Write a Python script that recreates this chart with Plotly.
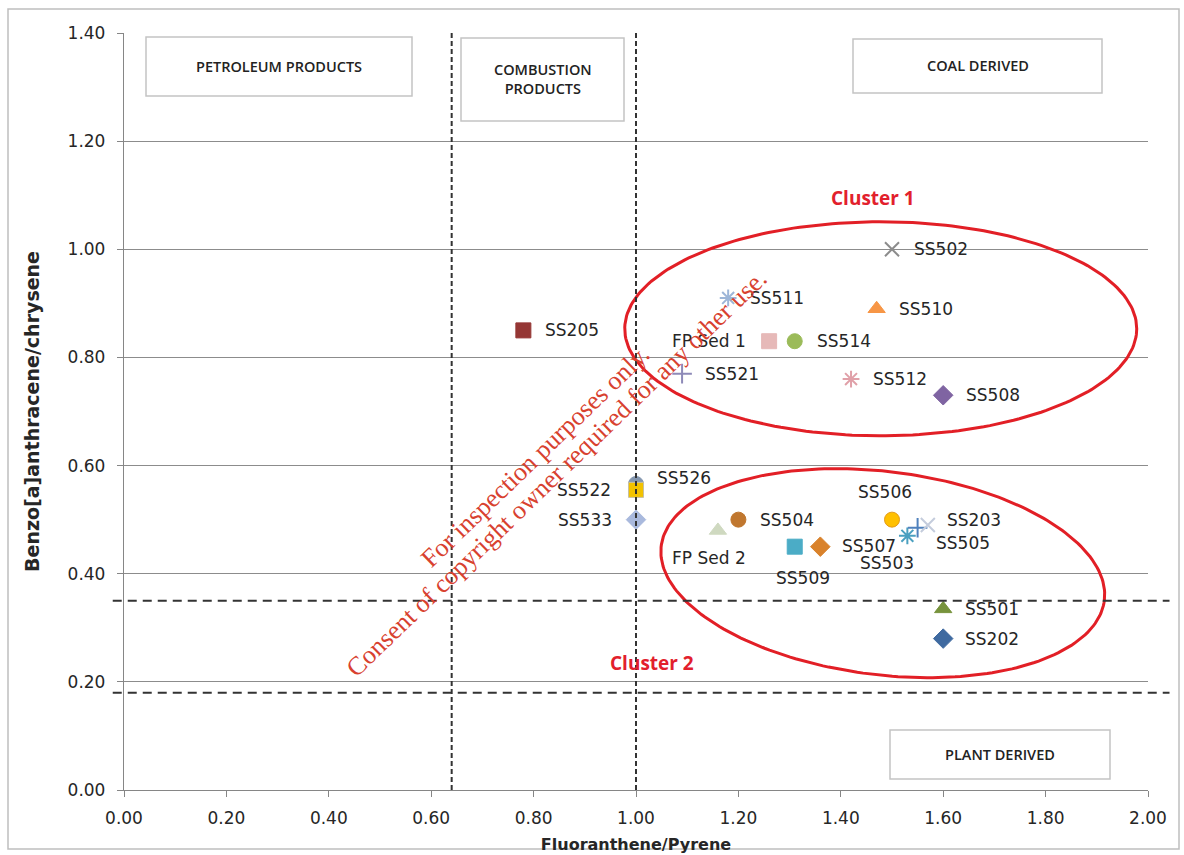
import numpy as np
import plotly.graph_objects as go

# Sample ratios: Fluoranthene/Pyrene (x) vs Benzo[a]anthracene/chrysene (y)
samples = ["SS205", "SS511", "FP Sed 1", "SS514", "SS521", "SS502", "SS510", "SS512",
           "SS508", "SS526", "SS522", "SS533", "FP Sed 2", "SS504", "SS509", "SS507",
           "SS506", "SS503", "SS505", "SS203", "SS501", "SS202"]
fl_py = [0.78, 1.18, 1.26, 1.31, 1.09, 1.50, 1.47, 1.42,
         1.60, 1.00, 1.00, 1.00, 1.16, 1.20, 1.31, 1.36,
         1.50, 1.53, 1.55, 1.57, 1.60, 1.60]
baa_chr = [0.85, 0.91, 0.83, 0.83, 0.77, 1.00, 0.89, 0.76,
           0.73, 0.566, 0.555, 0.50, 0.48, 0.50, 0.45, 0.45,
           0.50, 0.47, 0.485, 0.49, 0.335, 0.28]

# Source-diagnostic thresholds
fl_py_limits = [0.64, 1.00]
baa_chr_limits = [0.35, 0.18]

x_ticks = [0.0, 0.2, 0.4, 0.6, 0.8, 1.0, 1.2, 1.4, 1.6, 1.8, 2.0]
y_ticks = [0.0, 0.2, 0.4, 0.6, 0.8, 1.0, 1.2, 1.4]

# marker style per sample: symbol, fill, outline
style = {
    "SS205": ("square", "#953735", "#953735"),
    "SS511": ("asterisk-open", "#9DB6D8", "#9DB6D8"),
    "FP Sed 1": ("square", "#E6B9B8", "#E6B9B8"),
    "SS514": ("circle", "#9BBB59", "#9BBB59"),
    "SS521": ("cross-thin-open", "#8E8AB8", "#8E8AB8"),
    "SS502": ("x-thin-open", "#8C8C8C", "#8C8C8C"),
    "SS510": ("triangle-up", "#F79646", "#F79646"),
    "SS512": ("asterisk-open", "#E0A0A8", "#E0A0A8"),
    "SS508": ("diamond", "#7F64A2", "#7F64A2"),
    "SS526": ("circle", "#8497B0", "#8497B0"),
    "SS522": ("square", "#F2C200", "#C8C0A0"),
    "SS533": ("diamond", "#A9B9DD", "#A9B9DD"),
    "FP Sed 2": ("triangle-up", "#CFD9C0", "#CFD9C0"),
    "SS504": ("circle", "#C0772F", "#C0772F"),
    "SS509": ("square", "#4BACC6", "#4BACC6"),
    "SS507": ("diamond", "#D9822B", "#D9822B"),
    "SS506": ("circle", "#FFC000", "#E39A1A"),
    "SS503": ("asterisk-open", "#4BA0C0", "#4BA0C0"),
    "SS505": ("cross-thin-open", "#4F81BD", "#4F81BD"),
    "SS203": ("x-thin-open", "#C4CCDC", "#C4CCDC"),
    "SS501": ("triangle-up", "#77933C", "#77933C"),
    "SS202": ("diamond", "#3F6AA0", "#3F6AA0"),
}

# label placement per sample: xanchor, xshift, yshift (pixels)
label_pos = {
    "SS205": ("left", 20, 0), "SS511": ("left", 20, 0), "FP Sed 1": ("right", -21, 0),
    "SS514": ("left", 20, 0), "SS521": ("left", 21, 0), "SS502": ("left", 20, 0),
    "SS510": ("left", 20, 0), "SS512": ("left", 20, 0), "SS508": ("left", 21, 0),
    "SS526": ("left", 19, 6), "SS522": ("right", -23, 0), "SS533": ("right", -22, 0),
    "FP Sed 2": ("center", -9, -28), "SS504": ("left", 20, 0), "SS509": ("center", 8, -31),
    "SS507": ("left", 20, 1), "SS506": ("center", -7, 28), "SS503": ("center", -20, -27),
    "SS505": ("left", 16, -15), "SS203": ("left", 17, 5), "SS501": ("left", 20, 0),
    "SS202": ("left", 20, 0),
}

fig = go.Figure()

# draw SS526 beneath SS522 so the square sits on top
order = list(range(len(samples)))
i526 = samples.index("SS526")
order.remove(i526)
order.insert(0, i526)

for i in order:
    name = samples[i]
    sym, fill, line = style[name]
    is_open = sym.endswith("-open")
    fig.add_trace(go.Scatter(
        x=[fl_py[i]], y=[baa_chr[i]], mode="markers", name=name,
        marker=dict(symbol=sym, size=15 if not is_open else 14,
                    color=fill,
                    line=dict(color=line, width=2 if is_open else 1)),
        showlegend=False, hoverinfo="skip"))

annotations = []
for i, name in enumerate(samples):
    anchor, dx, dy = label_pos[name]
    annotations.append(dict(
        x=fl_py[i], y=baa_chr[i], xref="x", yref="y", text=name, showarrow=False,
        xanchor=anchor, yanchor="middle", xshift=dx, yshift=dy,
        font=dict(family="DejaVu Sans", size=17, color="#262626")))

# plot geometry (pixels) used to draw tilted cluster outlines
PX_W, PX_H = 1024, 757
sx = PX_W / (x_ticks[-1] - x_ticks[0])
sy = PX_H / (y_ticks[-1] - y_ticks[0])


def ellipse(cx, cy, rx, ry, tilt_deg, n=240):
    t = np.linspace(0, 2 * np.pi, n)
    a, b = rx * sx, ry * sy
    th = np.radians(-tilt_deg)
    u = a * np.cos(t)
    v = b * np.sin(t)
    px = u * np.cos(th) - v * np.sin(th)
    py = u * np.sin(th) + v * np.cos(th)
    return cx + px / sx, cy + py / sy


for (cx, cy, rx, ry, tilt) in [(1.478, 0.853, 0.50, 0.198, 0.0),
                               (1.482, 0.401, 0.436, 0.188, 7.0)]:
    ex, ey = ellipse(cx, cy, rx, ry, tilt)
    fig.add_trace(go.Scatter(x=ex, y=ey, mode="lines",
                             line=dict(color="#E21F26", width=3),
                             showlegend=False, hoverinfo="skip"))

shapes = []
for xv in fl_py_limits:
    shapes.append(dict(type="line", xref="x", yref="paper", x0=xv, x1=xv, y0=0, y1=1,
                       line=dict(color="#333333", width=2, dash="5px,3px")))
for yv in baa_chr_limits:
    shapes.append(dict(type="line", xref="paper", yref="y", x0=-0.011, x1=1.021, y0=yv, y1=yv,
                       line=dict(color="#333333", width=2, dash="9px,6px")))


def px_box(x0, y0, x1, y1):
    return dict(type="rect", xref="paper", yref="paper",
                x0=(x0 - 124) / PX_W, x1=(x1 - 124) / PX_W,
                y0=(790 - y1) / PX_H, y1=(790 - y0) / PX_H,
                line=dict(color="#C4C4C4", width=1.5), fillcolor="white", layer="above")


boxes = [
    ((146, 37, 412, 96), "PETROLEUM PRODUCTS"),
    ((461, 38, 624, 121), "COMBUSTION<br>PRODUCTS"),
    ((853, 39, 1102, 93), "COAL DERIVED"),
    ((890, 730, 1110, 779), "PLANT DERIVED"),
]
for (bx0, by0, bx1, by1), txt in boxes:
    shapes.append(px_box(bx0, by0, bx1, by1))
    annotations.append(dict(
        x=((bx0 + bx1) / 2 - 124) / PX_W, y=(790 - (by0 + by1) / 2) / PX_H,
        xref="paper", yref="paper", text=txt, showarrow=False,
        xanchor="center", yanchor="middle",
        font=dict(family="Open Sans", size=14.5, color="#222222", weight=600)))

# outer chart frame
shapes.append(dict(type="rect", xref="paper", yref="paper",
                   x0=(8 - 124) / PX_W, x1=(1179 - 124) / PX_W,
                   y0=(790 - 849) / PX_H, y1=(790 - 9) / PX_H,
                   line=dict(color="#BEBEBE", width=1.5), layer="below"))

# cluster captions
for txt, px, py in [("Cluster 1", 873, 198), ("Cluster 2", 652, 663)]:
    annotations.append(dict(
        x=(px - 124) / PX_W, y=(790 - py) / PX_H, xref="paper", yref="paper",
        text=txt, showarrow=False, xanchor="center", yanchor="middle",
        font=dict(family="Open Sans", size=19, color="#E2202C", weight="bold")))

# diagonal notice
for txt, px, py in [("For inspection purposes only.", 535, 456),
                    ("Consent of copyright owner required for any other use.", 556, 473)]:
    annotations.append(dict(
        x=(px - 124) / PX_W, y=(790 - py) / PX_H, xref="paper", yref="paper",
        text=txt, showarrow=False, xanchor="center", yanchor="middle", textangle=-44,
        font=dict(family="Liberation Serif", size=26, color="#D8412F")))

axis_common = dict(showline=True, linecolor="#868686", linewidth=1.3,
                   ticks="outside", ticklen=6, tickcolor="#868686", tickwidth=1.3,
                   tickformat=".2f", zeroline=False, automargin=False,
                   tickfont=dict(family="DejaVu Sans", size=17, color="#262626"))

fig.update_layout(
    width=1184, height=855,
    margin=dict(l=124, r=36, t=33, b=65),
    paper_bgcolor="white", plot_bgcolor="white",
    shapes=shapes, annotations=annotations,
    xaxis=dict(range=[x_ticks[0], x_ticks[-1]], tickvals=x_ticks, showgrid=False,
               ticklabelstandoff=6,
               title=dict(text="<b>Fluoranthene/Pyrene</b>", standoff=12,
                          font=dict(family="DejaVu Sans", size=16, color="#262626")),
               **axis_common),
    yaxis=dict(range=[y_ticks[0], y_ticks[-1]], tickvals=y_ticks, showgrid=True,
               gridcolor="#8C8C8C", gridwidth=1, ticklabelstandoff=8,
               title=dict(text="<b>Benzo[a]anthracene/chrysene</b>", standoff=22,
                          font=dict(family="DejaVu Sans", size=19, color="#262626")),
               **axis_common),
)

fig.write_html("out.html")
